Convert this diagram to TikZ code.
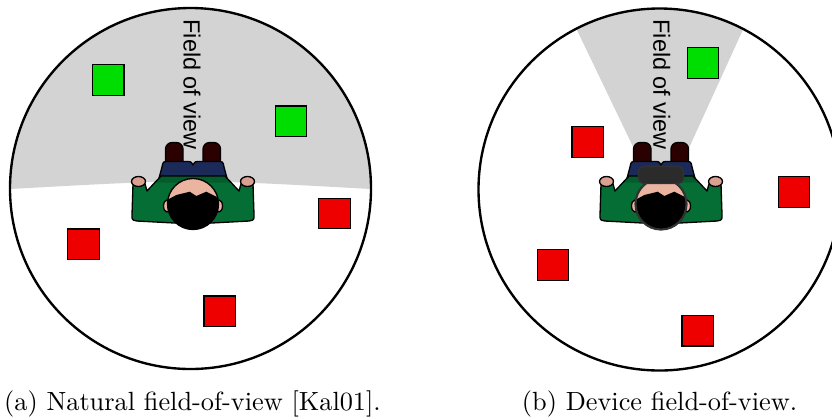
\documentclass[tikz,border=0pt]{standalone}
\usepackage{fontspec}
\newfontfamily\fovfont{Liberation Sans}

\definecolor{fovgrey}{RGB}{211,211,211}
\definecolor{boxgreen}{RGB}{0,221,0}
\definecolor{boxred}{RGB}{238,0,0}
\definecolor{jacketgreen}{RGB}{5,110,52}
\definecolor{jacketdark}{RGB}{4,92,44}
\definecolor{pantsblue}{RGB}{28,42,90}
\definecolor{shoebrown}{RGB}{43,0,0}
\definecolor{skin}{RGB}{234,180,160}
\definecolor{handskin}{RGB}{218,160,145}
\definecolor{headsetgrey}{RGB}{43,43,43}
\definecolor{strapgrey}{RGB}{50,50,50}

% outline of the jacket, seen from above
\newcommand{\jacketoutline}{
  (0,-24) -- (32,-24) -- (46,-9) -- (48,-16) -- (60,-16) -- (61,15)
  .. controls (61,20) .. (56,21) -- (0,24) -- (-56,21)
  .. controls (-61,20) .. (-61,15) -- (-60,-16) -- (-48,-16)
  -- (-46,-9) -- (-32,-24) -- cycle}

\tikzset{
  rim/.style={draw=black, line width=0.9pt},
  greenbox/.style={fill=boxgreen, draw=black, line width=0.4pt},
  redbox/.style={fill=boxred, draw=black, line width=0.4pt},
  figline/.style={draw=black, line width=0.5pt, line join=round},
  fovlabel/.style={font=\fovfont\fontsize{8.9}{10}\selectfont,
    inner sep=0pt, rotate=-90, anchor=base west},
  captiontext/.style={font=\normalsize, inner sep=0pt, anchor=base},
  % a person seen from above, facing up
  person/.pic={
    % shoes
    \filldraw[fill=shoebrown, figline, rounded corners=2.5pt]
      (-27.5,-30) rectangle (-10,-57.5);
    \filldraw[fill=shoebrown, figline, rounded corners=2.5pt]
      (10,-30) rectangle (27.5,-57.5);
    % trousers
    \filldraw[fill=pantsblue, figline]
      (-35,-18) -- (-31,-33) .. controls (-30,-38.5) .. (-24,-38.5)
      -- (-7,-38.5) .. controls (-2,-38.5) .. (0,-35)
      .. controls (2,-38.5) .. (7,-38.5) -- (24,-38.5)
      .. controls (30,-38.5) .. (31,-33) -- (35,-18) -- cycle;
    % jacket with darker shoulder band
    \fill[jacketgreen] \jacketoutline;
    \fill[jacketdark] (-32,-24) -- (32,-24) -- (38,-17.5) -- (-38,-17.5) -- cycle;
    \draw[figline] \jacketoutline;
    % hands
    \filldraw[fill=handskin, figline] (-54.5,-18.5) ellipse [x radius=7, y radius=5];
    \filldraw[fill=handskin, figline] (54.5,-18.5) ellipse [x radius=7, y radius=5];
    % ears
    \filldraw[fill=skin, figline] (-26,6) ellipse [x radius=3.5, y radius=6];
    \filldraw[fill=skin, figline] (26,6) ellipse [x radius=3.5, y radius=6];
    % head with hair
    \fill[skin] (0,4) circle [radius=25.5];
    \begin{scope}
      \clip (0,4) circle [radius=25.5];
      \fill[black] (-30,2) -- (-26,0) -- (-16.6,-5) -- (-3.3,-8.3) -- (3.3,-4)
        -- (13.3,-8.3) -- (23.3,-3.3) -- (27,1.7) -- (30,2) -- (30,35)
        -- (-30,35) -- cycle;
    \end{scope}
    \draw[figline] (0,4) circle [radius=25.5];
  }
}

\begin{document}
\begin{tikzpicture}[x=0.38pt, y=-0.38pt]
  \useasboundingbox (0,0) rectangle (832,419);

  % ---------- left: natural field of view ----------
  \begin{scope}
    \clip (190.5,188.5) circle [radius=180.5];
    \fill[fovgrey] (0,0) -- (400,0) -- (400,189) -- (371,189)
      .. controls (190.5,179) .. (10,189) -- (0,189) -- cycle;
  \end{scope}
  \draw[rim] (190.5,188.5) circle [radius=180.5];

  \draw[greenbox] (92.3,64.3) rectangle (124,95.3);
  \draw[greenbox] (275.3,106) rectangle (306.7,136.3);
  \draw[redbox] (318.7,198.3) rectangle (350.3,228.7);
  \draw[redbox] (67.7,229) rectangle (99.3,259.3);
  \draw[redbox] (204,296) rectangle (235.7,326.3);

  \node[fovlabel] (fovA) at (183.5,19) {Field of view};
  \pic at (193,200) {person};

  \node[captiontext] (capA) at (192.5,410) {(a) Natural field-of-view [Kal01].};

  % ---------- right: device field of view ----------
  \begin{scope}
    \clip (659.5,189.5) circle [radius=181];
    \fill[fovgrey] (662,207) -- (562.5,0) -- (756.5,0) -- cycle;
  \end{scope}
  \draw[rim] (659.5,189.5) circle [radius=181];

  \draw[greenbox] (687.7,47.7) rectangle (718.7,78.7);
  \draw[redbox] (572,126.7) rectangle (603.3,157.3);
  \draw[redbox] (778.3,176.7) rectangle (809.7,207.7);
  \draw[redbox] (537.3,249.3) rectangle (568.7,280.7);
  \draw[redbox] (682,315.3) rectangle (713.3,346);

  \node[fovlabel] (fovB) at (653.3,19) {Field of view};
  \pic at (661,200) {person};
  % headset: strap around the head and the visor in front
  \draw[strapgrey, line width=0.8pt] (661,204) circle [radius=25.5];
  \filldraw[fill=headsetgrey, draw=strapgrey, line width=0.5pt, rounded corners=2pt]
    (638.5,-33.5+200) rectangle (683.5,-16.5+200);

  \node[captiontext] (capB) at (659.5,410) {(b) Device field-of-view.};
\end{tikzpicture}
\end{document}
